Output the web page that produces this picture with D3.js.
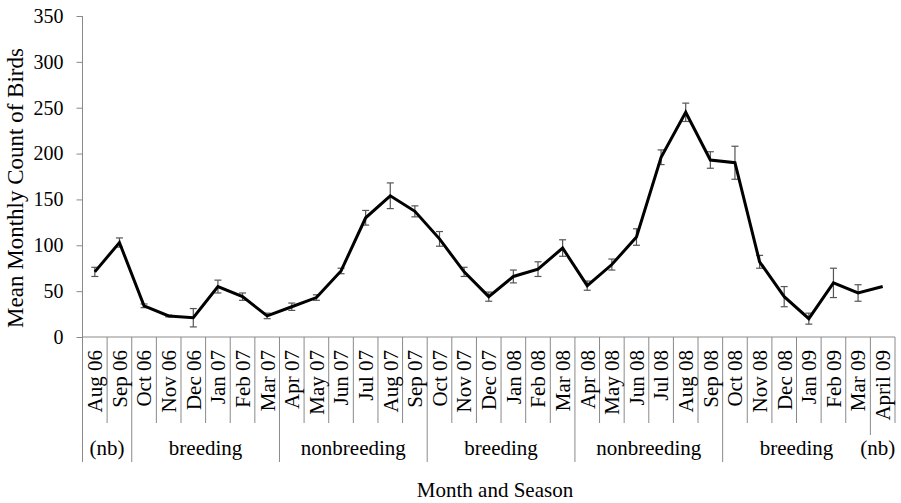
<!DOCTYPE html>
<html>
<head>
<meta charset="utf-8">
<script src="https://cdn.jsdelivr.net/npm/d3@7"></script>
<style>
  body { margin: 0; background: #fff; }
  svg text { font-family: "Liberation Serif", "Times New Roman", serif; fill: #000; }
</style>
</head>
<body>
<svg id="chart" width="901" height="503"></svg>
<script>
var months = ['Aug 06', 'Sep 06', 'Oct 06', 'Nov 06', 'Dec 06', 'Jan 07', 'Feb 07', 'Mar 07',
  'Apr 07', 'May 07', 'Jun 07', 'Jul 07', 'Aug 07', 'Sep 07', 'Oct 07', 'Nov 07', 'Dec 07',
  'Jan 08', 'Feb 08', 'Mar 08', 'Apr 08', 'May 08', 'Jun 08', 'Jul 08', 'Aug 08', 'Sep 08',
  'Oct 08', 'Nov 08', 'Dec 08', 'Jan 09', 'Feb 09', 'Mar 09', 'April 09'];
var meanCounts = [71, 103, 34, 23, 21, 55, 44, 23, 33, 43, 72, 130, 154, 137, 107, 71, 44,
  66, 74, 97, 56, 79, 109, 196, 245, 193, 190, 82, 44, 20, 59, 48, 55];
var errors = [5, 5, 2, 1, 10, 7, 4, 3, 4, 3, 3, 8, 14, 6, 8, 5, 5,
  7, 8, 9, 5, 6, 9, 8, 10, 9, 18, 7, 11, 6, 16, 9, 0];
var seasonNames = ['(nb)', 'breeding', 'nonbreeding', 'breeding', 'nonbreeding', 'breeding', '(nb)'];
var seasonStart = ['Aug 06', 'Oct 06', 'Apr 07', 'Oct 07', 'Apr 08', 'Oct 08', 'April 09'];
var seasonEnd = ['Sep 06', 'Mar 07', 'Sep 07', 'Mar 08', 'Sep 08', 'Mar 09', 'April 09'];
var yTicks = [0, 50, 100, 150, 200, 250, 300, 350];

(function() {
  'use strict';
  var svg = d3.select('#chart');
  var plotLeft = 82.5, plotRight = 895, plotTop = 16, plotBottom = 337;
  var monthLineEnd = 423, seasonLineEnd = 462;
  var axisColor = '#8a8a8a';

  var x = d3.scaleBand().domain(months).range([plotLeft, plotRight]).padding(0);
  var y = d3.scaleLinear().domain([0, 350]).range([plotBottom, plotTop]);
  var center = function(m) { return x(m) + x.bandwidth() / 2; };

  // y axis
  var yAxis = svg.append('g')
    .attr('transform', 'translate(' + plotLeft + ',0)')
    .call(d3.axisLeft(y).tickValues(yTicks).tickSize(6).tickPadding(13));
  yAxis.select('.domain').attr('stroke', axisColor).attr('d', 'M0,' + plotTop + 'V' + seasonLineEnd);
  yAxis.selectAll('.tick line').attr('stroke', axisColor);
  yAxis.selectAll('.tick text')
    .attr('font-size', 20)
    .attr('font-family', '"Liberation Serif", serif')
    .attr('fill', '#000');

  // x axis base line
  svg.append('line')
    .attr('x1', plotLeft).attr('x2', plotRight)
    .attr('y1', plotBottom).attr('y2', plotBottom)
    .attr('stroke', axisColor);

  // month separators (right edge of each band)
  var seasonBounds = seasonStart.map(function(m) { return x(m); });
  svg.append('g').selectAll('line')
    .data(months)
    .enter().append('line')
    .attr('x1', function(d) { return x(d) + x.bandwidth(); })
    .attr('x2', function(d) { return x(d) + x.bandwidth(); })
    .attr('y1', plotBottom)
    .attr('y2', function(d, i) {
      var xx = x(d) + x.bandwidth();
      if (i === months.length - 2) return 435;
      return seasonBounds.some(function(b) { return Math.abs(b - xx) < 0.5; }) ? seasonLineEnd : monthLineEnd;
    })
    .attr('stroke', axisColor);

  // month labels
  svg.append('g').selectAll('text')
    .data(months)
    .enter().append('text')
    .attr('transform', function(d) { return 'translate(' + center(d) + ',350) rotate(-90)'; })
    .attr('dy', '0.35em')
    .attr('text-anchor', 'end')
    .attr('font-size', 21)
    .text(function(d) { return d; });

  // season labels
  svg.append('g').selectAll('text')
    .data(seasonNames)
    .enter().append('text')
    .attr('x', function(d, i) {
      var cx = (x(seasonStart[i]) + x(seasonEnd[i]) + x.bandwidth()) / 2;
      return i === seasonNames.length - 1 ? cx - 5 : cx;
    })
    .attr('y', 455)
    .attr('text-anchor', 'middle')
    .attr('font-size', 21)
    .text(function(d) { return d; });

  // error bars
  var errG = svg.append('g').attr('stroke', '#555').attr('stroke-width', 1.2);
  months.forEach(function(m, i) {
    if (!errors[i]) return;
    var cx = center(m);
    var y1 = y(meanCounts[i] - errors[i]), y2 = y(meanCounts[i] + errors[i]);
    errG.append('line').attr('x1', cx).attr('x2', cx).attr('y1', y1).attr('y2', y2);
    errG.append('line').attr('x1', cx - 3.5).attr('x2', cx + 3.5).attr('y1', y1).attr('y2', y1);
    errG.append('line').attr('x1', cx - 3.5).attr('x2', cx + 3.5).attr('y1', y2).attr('y2', y2);
  });

  // mean line
  var line = d3.line()
    .x(function(d, i) { return center(months[i]); })
    .y(function(d) { return y(d); });
  svg.append('path')
    .datum(meanCounts)
    .attr('d', line)
    .attr('fill', 'none')
    .attr('stroke', '#000')
    .attr('stroke-width', 3);

  // axis titles
  svg.append('text')
    .attr('transform', 'translate(23,188) rotate(-90)')
    .attr('text-anchor', 'middle')
    .attr('font-size', 23)
    .text('Mean Monthly Count of Birds');

  svg.append('text')
    .attr('x', 495)
    .attr('y', 497)
    .attr('text-anchor', 'middle')
    .attr('font-size', 21)
    .text('Month and Season');
})();
</script>
</body>
</html>
